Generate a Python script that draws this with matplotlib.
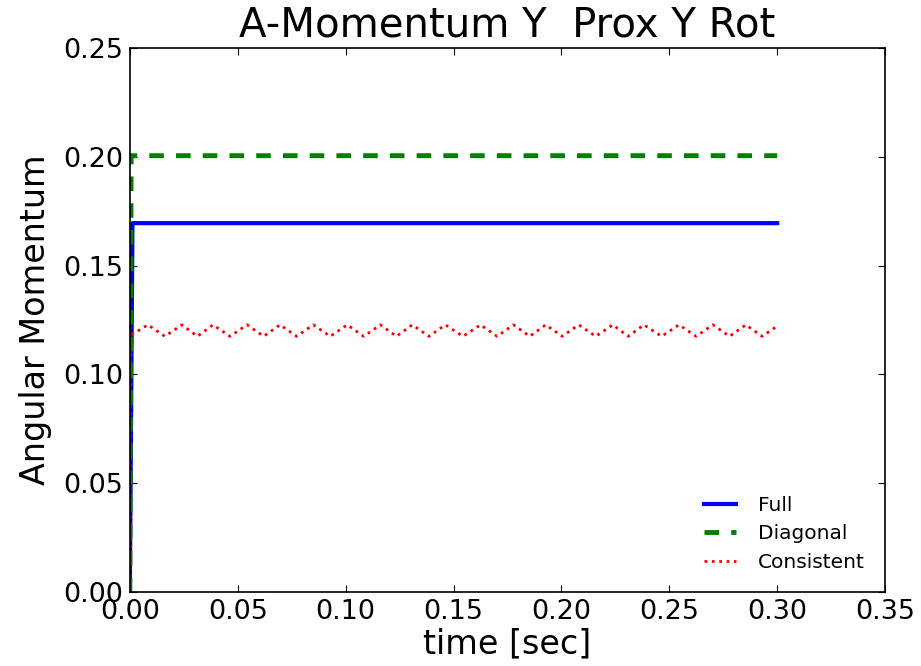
import matplotlib
matplotlib.use('Agg')
import matplotlib.pyplot as plt

# Full and diagonal: quick ramp then flat
t_full = [0.0, 0.0012, 0.30]
y_full = [0.0, 0.1695, 0.1695]

t_diag = [0.0, 0.0006, 0.30]
y_diag = [0.0, 0.2005, 0.2005]

# Consistent: ramp then small wiggle, read at crests and troughs
t_cons = [0.0, 0.0004, 0.0084, 0.0162, 0.0241, 0.0313, 0.0385, 0.0464,
          0.0543, 0.0620, 0.0696, 0.0773, 0.0850, 0.0929, 0.1007, 0.1084,
          0.1161, 0.1235, 0.1309, 0.1386, 0.1462, 0.1544, 0.1625, 0.1702,
          0.1778, 0.1853, 0.1927, 0.2004, 0.2080, 0.2159, 0.2238, 0.2310,
          0.2382, 0.2464, 0.2545, 0.2624, 0.2702, 0.2779, 0.2855, 0.2930,
          0.3000]
y_cons = [0.0, 0.1180, 0.1228, 0.1175, 0.1228, 0.1175, 0.1228, 0.1175,
          0.1228, 0.1175, 0.1228, 0.1175, 0.1228, 0.1175, 0.1228, 0.1175,
          0.1228, 0.1175, 0.1228, 0.1175, 0.1228, 0.1175, 0.1228, 0.1175,
          0.1228, 0.1175, 0.1228, 0.1175, 0.1228, 0.1175, 0.1228, 0.1175,
          0.1228, 0.1175, 0.1228, 0.1175, 0.1228, 0.1175, 0.1228, 0.1175,
          0.1222]

fig = plt.figure(figsize=(9.21, 6.66), dpi=100)
ax = fig.add_axes([0.141, 0.111, 0.820, 0.817])

ax.plot(t_full, y_full, color='blue', lw=3, label='Full')
ax.plot(t_diag, y_diag, color='green', lw=3.5, ls='--', dashes=(3, 2.5), label='Diagonal')
ax.plot(t_cons, y_cons, color='red', lw=2.0, ls=':', label='Consistent')

ax.set_xlim(0, 0.35)
ax.set_ylim(0, 0.25)
ax.set_xticks([0.0, 0.05, 0.10, 0.15, 0.20, 0.25, 0.30, 0.35])
ax.set_yticks([0.0, 0.05, 0.10, 0.15, 0.20, 0.25])
ax.xaxis.set_major_formatter(matplotlib.ticker.FormatStrFormatter('%.2f'))
ax.yaxis.set_major_formatter(matplotlib.ticker.FormatStrFormatter('%.2f'))
ax.tick_params(direction='in', top=True, right=True, length=5, width=0.8,
               labelsize=19.5, pad=5)
for s in ax.spines.values():
    s.set_linewidth(1.2)

ax.set_title('A-Momentum Y  Prox Y Rot', fontsize=29, pad=8)
ax.set_xlabel('time [sec]', fontsize=24, labelpad=2)
ax.set_ylabel('Angular Momentum', fontsize=24, labelpad=8)

ax.legend(loc='lower right', frameon=False, fontsize=14.5, handlelength=1.6,
          handletextpad=1.1, labelspacing=0.48, borderaxespad=0.6)

fig.savefig('out.png', dpi=100, facecolor='white')
